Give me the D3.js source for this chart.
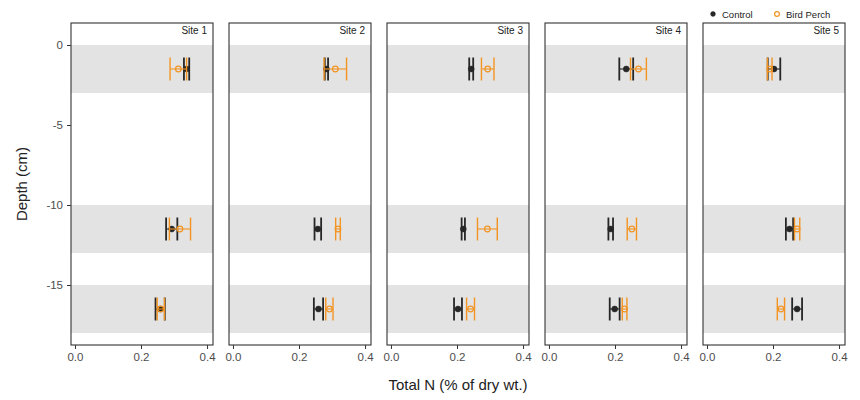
<!DOCTYPE html>
<html>
<head>
<meta charset="utf-8">
<script src="https://cdn.jsdelivr.net/npm/d3@7"></script>
<style>
  html, body { margin: 0; padding: 0; background: #fff; }
  svg { display: block; font-family: "Liberation Sans", Arial, sans-serif; }
</style>
</head>
<body>
<svg id="chart" width="860" height="400"></svg>
<script>
// Sites shown as facets, sampling depths (cm, negative = below surface)
const sites = ["Site 1", "Site 2", "Site 3", "Site 4", "Site 5"];
const depths = [-1.5, -11.5, -16.5];
// Shaded depth layers [top, bottom]
const layers = [[0, -3], [-10, -13], [-15, -18]];

// Total N (% of dry wt.) per site, one value per depth
const controlMean = [
  [0.338, 0.293, 0.258],
  [0.283, 0.257, 0.259],
  [0.243, 0.219, 0.203],
  [0.234, 0.187, 0.199],
  [0.203, 0.250, 0.273]
];
const controlErr = [
  [0.008, 0.017, 0.014],
  [0.005, 0.010, 0.014],
  [0.006, 0.005, 0.012],
  [0.021, 0.007, 0.015],
  [0.019, 0.011, 0.015]
];
const perchMean = [
  [0.313, 0.318, 0.260],
  [0.310, 0.318, 0.292],
  [0.293, 0.292, 0.241],
  [0.271, 0.251, 0.229],
  [0.190, 0.273, 0.224]
];
const perchErr = [
  [0.025, 0.032, 0.011],
  [0.034, 0.007, 0.011],
  [0.019, 0.030, 0.012],
  [0.024, 0.014, 0.007],
  [0.007, 0.008, 0.011]
];

const xTicks = [0.0, 0.2, 0.4];
const yTicks = [0, -5, -10, -15];
const groups = ["Control", "Bird Perch"];

const colControl = "#262626";
const colPerch = "#f39422";

const svg = d3.select("#chart");
const plotTop = 23, plotBottom = 345;

const panel = d3.scaleBand().domain(sites).range([71, 845]).paddingInner(0.1013);
const pw = panel.bandwidth();
const x = d3.scaleLinear().domain([-0.012, 0.418]).range([0, pw]);
const y = d3.scaleLinear().domain([1.375, -18.75]).range([plotTop, plotBottom]);

sites.forEach((site, i) => {
  const g = svg.append("g").attr("transform", `translate(${panel(site)},0)`);

  // background
  g.append("rect").attr("x", 0).attr("y", plotTop).attr("width", pw).attr("height", plotBottom - plotTop)
    .attr("fill", "#fff");

  // shaded layers
  g.selectAll("rect.layer").data(layers).join("rect")
    .attr("class", "layer")
    .attr("x", 0).attr("width", pw)
    .attr("y", d => y(d[0]))
    .attr("height", d => y(d[1]) - y(d[0]))
    .attr("fill", "#e3e3e3");

  const series = [
    { mean: controlMean[i], err: controlErr[i], color: colControl, filled: true, w: 1.8 },
    { mean: perchMean[i], err: perchErr[i], color: colPerch, filled: false, w: 1.4 }
  ];

  const capH = 11.5;
  series.forEach(s => {
    const rows = depths.map((d, k) => ({ depth: d, m: s.mean[k], e: s.err[k] }));
    const eg = g.append("g");
    eg.selectAll("line.bar").data(rows).join("line")
      .attr("x1", d => x(d.m - d.e)).attr("x2", d => x(d.m + d.e))
      .attr("y1", d => y(d.depth)).attr("y2", d => y(d.depth))
      .attr("stroke", s.color).attr("stroke-width", 1.1);
    eg.selectAll("line.capL").data(rows).join("line")
      .attr("x1", d => x(d.m - d.e)).attr("x2", d => x(d.m - d.e))
      .attr("y1", d => y(d.depth) - capH).attr("y2", d => y(d.depth) + capH)
      .attr("stroke", s.color).attr("stroke-width", s.w);
    eg.selectAll("line.capR").data(rows).join("line")
      .attr("x1", d => x(d.m + d.e)).attr("x2", d => x(d.m + d.e))
      .attr("y1", d => y(d.depth) - capH).attr("y2", d => y(d.depth) + capH)
      .attr("stroke", s.color).attr("stroke-width", s.w);
    eg.selectAll("circle").data(rows).join("circle")
      .attr("cx", d => x(d.m)).attr("cy", d => y(d.depth))
      .attr("r", s.filled ? 3 : 2.8)
      .attr("fill", s.filled ? s.color : "none")
      .attr("stroke", s.color).attr("stroke-width", s.filled ? 0.5 : 1.2);
  });

  // frame
  g.append("rect").attr("x", 0).attr("y", plotTop).attr("width", pw).attr("height", plotBottom - plotTop)
    .attr("fill", "none").attr("stroke", "#333").attr("stroke-width", 1.1);

  // site label
  g.append("text").attr("x", pw - 6).attr("y", plotTop + 11)
    .attr("text-anchor", "end").attr("font-size", 10).attr("fill", "#222").text(site);

  // x axis
  const xa = g.append("g").attr("transform", `translate(0,${plotBottom})`)
    .call(d3.axisBottom(x).tickValues(xTicks).tickFormat(d3.format(".1f")).tickSize(4).tickPadding(4));
  xa.select(".domain").remove();
  xa.selectAll("line").attr("stroke", "#333");
  xa.selectAll("text").attr("font-size", 11.5).attr("fill", "#4d4d4d").attr("font-family", null);

  if (i === 0) {
    const ya = g.append("g")
      .call(d3.axisLeft(y).tickValues(yTicks).tickFormat(d => String(d)).tickSize(4).tickPadding(4));
    ya.select(".domain").remove();
    ya.selectAll("line").attr("stroke", "#333");
    ya.selectAll("text").attr("font-size", 11.5).attr("fill", "#4d4d4d").attr("font-family", null);
  }
});

// axis titles
svg.append("text").attr("x", 458).attr("y", 390).attr("text-anchor", "middle")
  .attr("font-size", 15).attr("fill", "#222").text("Total N (% of dry wt.)");
svg.append("text").attr("transform", "translate(27,184) rotate(-90)").attr("text-anchor", "middle")
  .attr("font-size", 15).attr("fill", "#222").text("Depth (cm)");

// legend
const leg = svg.append("g");
const legX = [713, 777];
groups.forEach((name, k) => {
  leg.append("circle").attr("cx", legX[k]).attr("cy", 14).attr("r", 2.4)
    .attr("fill", k === 0 ? colControl : "none")
    .attr("stroke", k === 0 ? colControl : colPerch).attr("stroke-width", k === 0 ? 0.5 : 1.2);
  leg.append("text").attr("x", legX[k] + 9).attr("y", 17.5)
    .attr("font-size", 9.5).attr("fill", "#222").text(name);
});
</script>
</body>
</html>
